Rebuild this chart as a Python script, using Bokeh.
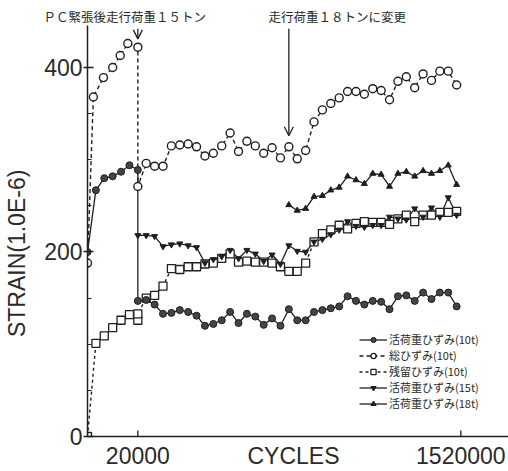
import math
from bokeh.plotting import figure
from bokeh.models import Range1d, FixedTicker, Arrow, OpenHead, Legend, LegendItem
from bokeh.embed import file_html
from bokeh.resources import INLINE

# ---------------- data (x = measurement step along the CYCLES axis) ----------------
pre_steps = [0, 1, 2, 3, 4, 5, 6]
post_steps = [6, 7, 8, 9, 10, 11, 12, 13, 14, 15, 16, 17, 18, 19, 20, 21, 22, 23, 24, 25,
              26, 27, 28, 29, 30, 31, 32, 33, 34, 35, 36, 37, 38, 39, 40, 41, 42, 43, 44]
steps_18t = [24, 25, 26, 27, 28, 29, 30, 31, 32, 33, 34, 35, 36, 37, 38, 39, 40, 41, 42, 43, 44]

# 活荷重ひずみ(10t)
live10_pre = [200, 267, 280, 282, 287, 294, 289]
live10_post = [147, 148, 143, 133, 134, 137, 135, 131, 120, 122, 126, 135, 123, 133, 130, 121,
               128, 120, 138, 126, 126, 135, 137, 139, 141, 152, 147, 143, 147, 146, 138, 152,
               153, 147, 156, 149, 156, 156, 141]
# 総ひずみ(10t)
total10_pre_steps = [0, 0.7, 1.9, 3, 3.9, 4.8, 6]
total10_pre = [188, 368, 389, 400, 413, 426, 422]
total10_post = [271, 296, 293, 293, 315, 316, 317, 314, 304, 307, 315, 329, 309, 320, 315, 307,
                313, 302, 314, 301, 310, 341, 354, 361, 367, 374, 374, 371, 377, 375, 365, 385,
                390, 378, 393, 386, 396, 396, 381]
# 残留ひずみ(10t)
resid10_pre = [0, 101, 109, 118, 126, 132, 126]
resid10_post = [133, 150, 153, 163, 182, 181, 184, 184, 187, 188, 193, 198, 189, 190, 189, 189,
                188, 184, 179, 179, 188, 211, 220, 224, 229, 225, 231, 233, 232, 232, 230, 236,
                240, 233, 240, 240, 243, 243, 244]
# 活荷重ひずみ(15t)
live15 = [218, 218, 217, 206, 208, 209, 207, 205, 188, 192, 195, 202, 193, 202, 198, 190,
          197, 187, 207, 201, 200, 211, 214, 219, 224, 233, 228, 227, 229, 229, 238, 236,
          235, 247, 238, 248, 238, 259, 240]
# 活荷重ひずみ(18t)
live18 = [251, 245, 247, 260, 261, 267, 270, 282, 278, 274, 285, 284, 271, 285, 287, 282,
          288, 285, 288, 294, 273]

series_names = ["活荷重ひずみ(10t)", "総ひずみ(10t)", "残留ひずみ(10t)",
                "活荷重ひずみ(15t)", "活荷重ひずみ(18t)"]

x_tick_pos = [6, 44.5]
x_tick_labels = ["20000", "1520000"]
x_title = "CYCLES"
x_title_pos = 24.55
y_ticks = [0, 200, 400]
y_minor_ticks = [50, 100, 150, 250, 300, 350]
y_title = "STRAIN(1.0E-6)"

note1 = "ＰＣ緊張後走行荷重１５トン"
note1_step = 6
note2 = "走行荷重１８トンに変更"
note2_step = 24

INK = "#1f1f1f"
TXT = "#2a2a2a"
LATIN = "Liberation Sans"
CJK = "Noto Sans CJK JP"

# ---------------- figure ----------------
p = figure(width=508, height=471, output_backend="svg", toolbar_location=None,
           title=note1 + "\u3000" * 5 + note2,
           x_range=Range1d(0, 50.18), y_range=Range1d(0, 445.5),
           min_border_left=87, min_border_right=0, min_border_top=25, min_border_bottom=35)
p.outline_line_color = None
p.grid.visible = False
p.background_fill_color = "white"
p.border_fill_color = "white"

# the two notes above the plot share one row
p.title.align = "left"
p.title.offset = -44
p.title.standoff = 0
p.title.text_font = CJK
p.title.text_font_size = "12.5px"
p.title.text_font_style = "normal"
p.title.text_color = TXT

# y axis
ya = p.yaxis[0]
ya.ticker = FixedTicker(ticks=y_ticks, minor_ticks=y_minor_ticks)
ya.axis_line_color = INK
ya.axis_line_width = 1.5
ya.major_tick_line_color = INK
ya.major_tick_line_width = 1.3
ya.major_tick_in = 6
ya.major_tick_out = 4
ya.minor_tick_line_color = INK
ya.minor_tick_in = 4
ya.minor_tick_out = 0
ya.major_label_standoff = 1
ya.major_label_text_font = LATIN
ya.major_label_text_font_size = "23px"
ya.major_label_text_color = TXT
ya.axis_label = y_title + "\u00a0" * 7
ya.axis_label_standoff = 11
ya.axis_label_text_font = LATIN
ya.axis_label_text_font_size = "23px"
ya.axis_label_text_font_style = "normal"
ya.axis_label_text_color = TXT

# x axis: tick labels and the axis title share one row
xa = p.xaxis[0]
xa.ticker = FixedTicker(ticks=x_tick_pos + [x_title_pos], minor_ticks=[])
overrides = {t: lab for t, lab in zip(x_tick_pos, x_tick_labels)}
overrides[x_title_pos] = x_title
xa.major_label_overrides = overrides
xa.axis_line_color = INK
xa.axis_line_width = 1.5
xa.major_tick_in = 0
xa.major_tick_out = 0
xa.minor_tick_line_color = None
xa.major_label_standoff = 6
xa.major_label_text_font = LATIN
xa.major_label_text_font_size = "23px"
xa.major_label_text_color = TXT
# inward tick marks at the labelled cycle positions
p.segment(x0=x_tick_pos, y0=[0] * len(x_tick_pos), x1=x_tick_pos, y1=[6.5] * len(x_tick_pos),
          line_color=INK, line_width=1.3)

# ---------------- series ----------------
live10_x = pre_steps + post_steps
live10_y = live10_pre + live10_post
total10_x = total10_pre_steps + post_steps
total10_y = total10_pre + total10_post
resid10_x = pre_steps + post_steps
resid10_y = resid10_pre + resid10_post

l1 = p.line(live10_x, live10_y, line_color=INK, line_width=1.3)
l2 = p.line(total10_x, total10_y, line_color=INK, line_width=1.4, line_dash="4 3")
l3 = p.line(resid10_x, resid10_y, line_color=INK, line_width=1.4, line_dash="3 3")
l4 = p.line(post_steps, live15, line_color=INK, line_width=1.3)
l5 = p.line(steps_18t, live18, line_color=INK, line_width=1.3)

m3 = p.scatter(resid10_x, resid10_y, marker="square", size=8, fill_color="white",
               line_color=INK, line_width=1.3)
m4 = p.scatter(post_steps, live15, marker="inverted_triangle", size=6, fill_color=INK,
               line_color=INK)
m5 = p.scatter(steps_18t, live18, marker="triangle", size=6, fill_color=INK, line_color=INK)
m2 = p.scatter(total10_x, total10_y, marker="circle", size=8, fill_color="white",
               line_color=INK, line_width=1.4)
m1 = p.scatter(live10_x, live10_y, marker="circle", size=7, fill_color="#444444",
               line_color=INK, line_width=1)

# ---------------- annotation arrows ----------------
p.add_layout(Arrow(x_start=note1_step, y_start=442, x_end=note1_step, y_end=431,
                   line_color=INK, line_width=1.3,
                   end=OpenHead(size=9, line_color=INK, line_width=1.3)))
p.add_layout(Arrow(x_start=note2_step, y_start=442, x_end=note2_step, y_end=326,
                   line_color=INK, line_width=1.3,
                   end=OpenHead(size=9, line_color=INK, line_width=1.3)))

# ---------------- legend (one row per entry, tightly stacked) ----------------
row_renderers = [[l1, m1], [l2, m2], [l3, m3], [l4, m4], [l5, m5]]
row_pitch = 16
top_row_offset = 89
for i, (name, rends) in enumerate(zip(series_names, row_renderers)):
    lg = Legend(items=[LegendItem(label=name, renderers=rends)],
                location=(272, top_row_offset - i * row_pitch), border_line_color=None,
                background_fill_alpha=0, padding=0, margin=0, spacing=0,
                label_height=13, glyph_height=13, glyph_width=28, label_standoff=2,
                label_text_font=CJK, label_text_font_size="11px", label_text_color=TXT)
    p.add_layout(lg, "center")

open("out.html", "w").write(file_html(p, INLINE))
